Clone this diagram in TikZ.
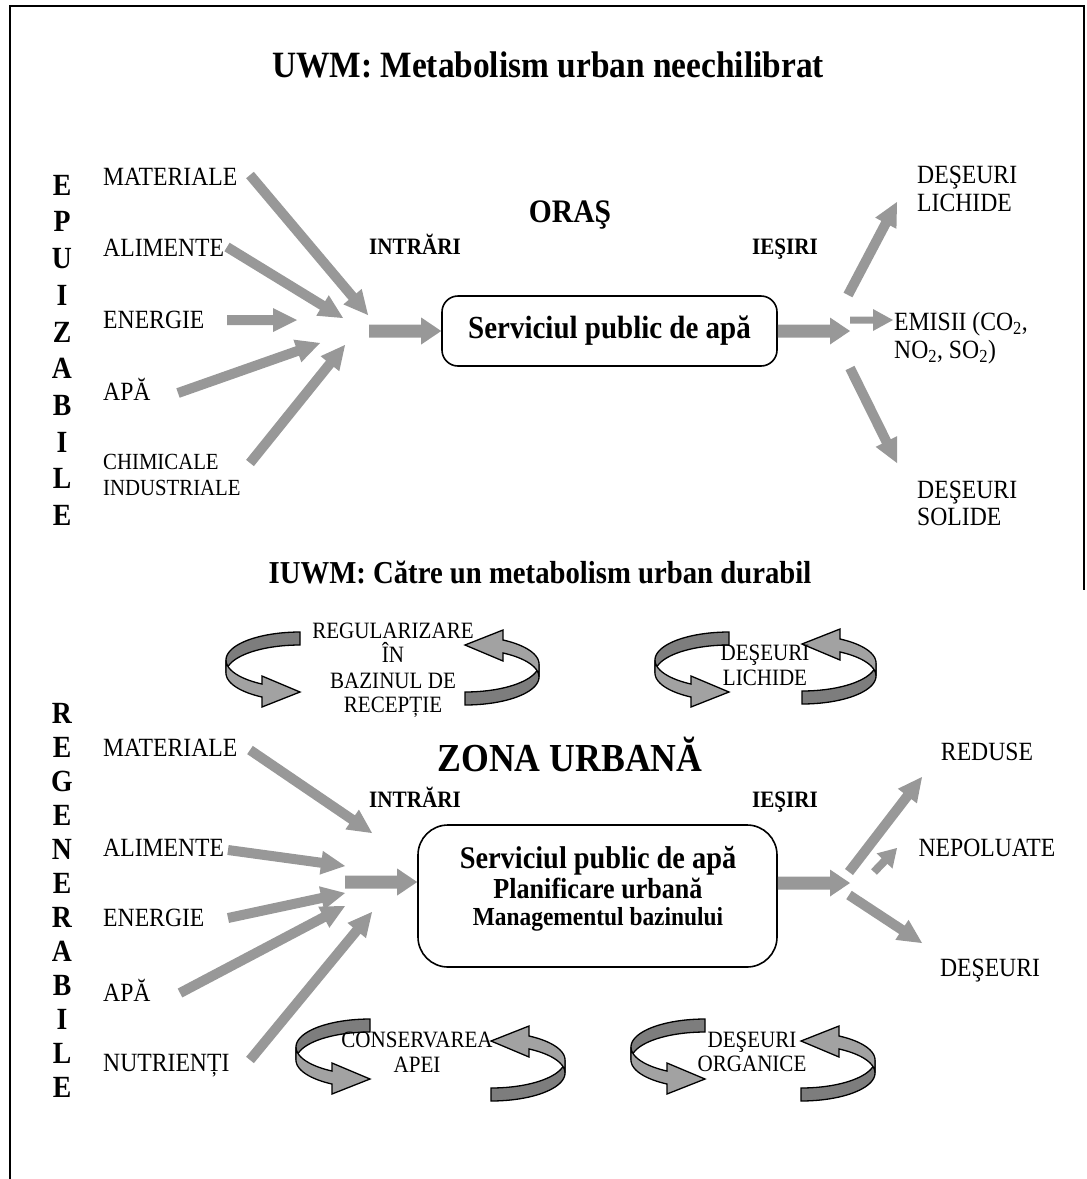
\documentclass[tikz,border=0pt]{standalone}
\usepackage{fontspec}
\setmainfont{Liberation Serif}[FakeStretch=0.9]
\usetikzlibrary{calc}
\definecolor{arrg}{RGB}{152,152,152}
\definecolor{cycdark}{RGB}{125,125,125}
\definecolor{cyclight}{RGB}{162,162,162}
% block arrow: start, end, half shaft, half head, head length
\newcommand\blk[5]{%
  \coordinate (hb) at ($(#2)!#5pt!(#1)$);
  \fill[arrg] ($(#1)!#3pt!90:(#2)$) -- ($(hb)!#3pt!90:(#2)$) -- ($(hb)!#4pt!90:(#2)$) -- (#2)
    -- ($(hb)!#4pt!-90:(#2)$) -- ($(hb)!#3pt!-90:(#2)$) -- ($(#1)!#3pt!-90:(#2)$) -- cycle;}
\newcommand\thin[2]{\blk{#1}{#2}{5}{12}{24}}
\newcommand\fat[2]{\blk{#1}{#2}{6.5}{13.5}{20}}
\tikzset{
  lab/.style={font=\fontsize{26.3}{30}\selectfont, anchor=base west, inner sep=0pt},
  labc/.style={font=\fontsize{26.3}{30}\selectfont, anchor=base, inner sep=0pt},
  labs/.style={font=\fontsize{23.1}{26}\selectfont, anchor=base west, inner sep=0pt},
  io/.style={font=\bfseries\fontsize{23.5}{26}\selectfont, anchor=base, inner sep=0pt},
  vlet/.style={font=\bfseries\fontsize{30.8}{34}\selectfont, anchor=base, inner sep=0pt},
  cyt/.style={font=\fontsize{23.4}{26}\selectfont, anchor=base, inner sep=0pt},
  ttl/.style={font=\bfseries\fontsize{37.1}{40}\selectfont, anchor=base, inner sep=0pt},
  boxed/.style={draw, line width=1.6pt, inner sep=0pt},
  cyc/.pic={
    \filldraw[fill=cycdark, draw=black, line width=1.3pt]
      plot[domain=270:180, samples=25, variable=\t] ({74*cos(\t)}, {28+28*sin(\t)})
      -- plot[domain=180:270, samples=25, variable=\t] ({74*cos(\t)}, {41+28*sin(\t)}) -- cycle;
    \filldraw[fill=cyclight, draw=black, line width=1.3pt]
      plot[domain=180:120.9, samples=20, variable=\t] ({74*cos(\t)}, {28+28*sin(\t)})
      -- (-38,44) -- (0,60) -- (-38,75)
      -- plot[domain=120.9:180, samples=20, variable=\t] ({74*cos(\t)}, {41+28*sin(\t)}) -- cycle;
  }
}
\begin{document}
\begin{tikzpicture}[x=1pt, y=-1pt]
\useasboundingbox (0,0) rectangle (1087,1179);
% frame
\draw[line width=2pt] (10,1179) -- (10,6) -- (1084,6) -- (1084,590);

% ---------- UPPER PART ----------
\node[ttl] (t1) at (548,77.3) {UWM: Metabolism urban neechilibrat};
\node[ttl, font=\bfseries\fontsize{32.8}{36}\selectfont] (oras) at (570,222.9) {ORAŞ};
\node[io] (in1) at (415,254.8) {INTRĂRI};
\node[io] (out1) at (785,254.8) {IEŞIRI};

\foreach \l [count=\i from 0] in {E,P,U,I,Z,A,B,I,L,E}
  \node[vlet] (ep\i) at (62,{185+\i*36.7+10.2}) {\l};

\node[lab] (m1) at (103,185.7) {MATERIALE};
\node[lab] (al1) at (103,256.7) {ALIMENTE};
\node[lab] (en1) at (103,328.7) {ENERGIE};
\node[lab] (ap1) at (103,400.7) {APĂ};
\node[labs] (ch1) at (103,469.6) {CHIMICALE};
\node[labs] (ch1b) at (103,495.6) {INDUSTRIALE};

\node[boxed, rounded corners=16pt, minimum width=335, minimum height=70,
      font=\bfseries\fontsize{32.2}{36}\selectfont] (box1) at (609.5,331) {Serviciul public de apă};

\coordinate (a1s) at (250,175); \coordinate (a1e) at (368,315);
\coordinate (a2s) at (227,247); \coordinate (a2e) at (343,318);
\coordinate (a3s) at (227,320); \coordinate (a3e) at (297,320);
\coordinate (a4s) at (178,393); \coordinate (a4e) at (320,343);
\coordinate (a5s) at (250,463); \coordinate (a5e) at (345,345);
\coordinate (c1s) at (369,331);
\coordinate (c1e) at (box1.west |- c1s);
\thin{a1s}{a1e}\thin{a2s}{a2e}\thin{a3s}{a3e}\thin{a4s}{a4e}\thin{a5s}{a5e}
\fat{c1s}{c1e}

\coordinate (o1e) at (850,331);
\coordinate (o1s) at (box1.east |- o1e);
\fat{o1s}{o1e}
\coordinate (b1s) at (848,295); \coordinate (b1e) at (897,202);
\coordinate (b2s) at (850,320); \coordinate (b2e) at (893,320);
\coordinate (b3s) at (850,368); \coordinate (b3e) at (897,463);
\thin{b1s}{b1e}
\blk{b2s}{b2e}{3.5}{11}{20}
\thin{b3s}{b3e}

\node[lab] (dl1) at (917,183.7) {DEŞEURI};
\node[lab] (dl2) at (917,211.7) {LICHIDE};
\node[lab] (em1) at (894,330.7) {EMISII (CO\textsubscript{2},};
\node[lab] (em2) at (894,358.7) {NO\textsubscript{2}, SO\textsubscript{2})};
\node[lab] (ds1) at (917,498.7) {DEŞEURI};
\node[lab] (ds2) at (917,525.7) {SOLIDE};

% ---------- LOWER PART ----------
\node[ttl, font=\bfseries\fontsize{31.9}{36}\selectfont] (t2) at (540,583.6) {IUWM: Către un metabolism urban durabil};

\pic at (300,632) {cyc};
\pic[rotate=180] at (465,705) {cyc};
\pic at (729,632) {cyc};
\pic[rotate=180] at (802,704) {cyc};
\pic at (370,1019) {cyc};
\pic[rotate=180] at (491,1101) {cyc};
\pic at (705,1019) {cyc};
\pic[rotate=180] at (801,1101) {cyc};

\node[cyt] (r1) at (393,638.7) {REGULARIZARE};
\node[cyt] (r2) at (393,662.7) {ÎN};
\node[cyt] (r3) at (393,688.7) {BAZINUL DE};
\node[cyt] (r4) at (393,712.7) {RECEPȚIE};
\node[cyt] (dq1) at (765,660.7) {DEŞEURI};
\node[cyt] (dq2) at (765,685.7) {LICHIDE};
\node[cyt] (ca1) at (417,1047.7) {CONSERVAREA};
\node[cyt] (ca2) at (417,1072.7) {APEI};
\node[cyt] (do1) at (752,1047.7) {DEŞEURI};
\node[cyt] (do2) at (752,1071.7) {ORGANICE};

\node[ttl, font=\bfseries\fontsize{39.7}{44}\selectfont] (zona) at (570,771) {ZONA URBANĂ};
\node[io] (in2) at (415,807.8) {INTRĂRI};
\node[io] (out2) at (785,807.8) {IEŞIRI};

\foreach \l [count=\i from 0] in {R,E,G,E,N,E,R,A,B,I,L,E}
  \node[vlet] (rg\i) at (62,{713+\i*34+10.2}) {\l};

\node[lab] (m2) at (103,756.7) {MATERIALE};
\node[lab] (al2) at (103,856.7) {ALIMENTE};
\node[lab] (en2) at (103,926.7) {ENERGIE};
\node[lab] (ap2) at (103,1001.7) {APĂ};
\node[lab] (nu2) at (103,1071.7) {NUTRIENȚI};

\node[boxed, rounded corners=30pt, minimum width=359, minimum height=142] (box2) at (597.5,896) {};
\node[io, font=\bfseries\fontsize{31.5}{36}\selectfont] (s2a) at (598,868) {Serviciul public de apă};
\node[io, font=\bfseries\fontsize{29}{34}\selectfont] (s2b) at (598,898) {Planificare urbană};
\node[io, font=\bfseries\fontsize{26}{30}\selectfont] (s2c) at (598,925) {Managementul bazinului};

\coordinate (d1s) at (250,750); \coordinate (d1e) at (372,833);
\coordinate (d2s) at (228,850); \coordinate (d2e) at (345,866);
\coordinate (d3s) at (228,918); \coordinate (d3e) at (345,893);
\coordinate (d4s) at (180,993); \coordinate (d4e) at (345,906);
\coordinate (d5s) at (250,1060); \coordinate (d5e) at (372,912);
\coordinate (c2s) at (345,882);
\coordinate (c2e) at (box2.west |- c2s);
\thin{d1s}{d1e}\thin{d2s}{d2e}\thin{d3s}{d3e}\thin{d4s}{d4e}\thin{d5s}{d5e}
\fat{c2s}{c2e}

\coordinate (o2e) at (850,883);
\coordinate (o2s) at (box2.east |- o2e);
\fat{o2s}{o2e}
\coordinate (e1s) at (849,872); \coordinate (e1e) at (922,777);
\coordinate (e2s) at (874,872); \coordinate (e2e) at (897,848);
\coordinate (e3s) at (849,895); \coordinate (e3e) at (922,943);
\thin{e1s}{e1e}
\blk{e2s}{e2e}{4}{11}{18}
\thin{e3s}{e3e}

\node[labc] (re) at (987,760.7) {REDUSE};
\node[labc] (np) at (987,856.7) {NEPOLUATE};
\node[labc] (de) at (990,976.7) {DEŞEURI};
\end{tikzpicture}
\end{document}
